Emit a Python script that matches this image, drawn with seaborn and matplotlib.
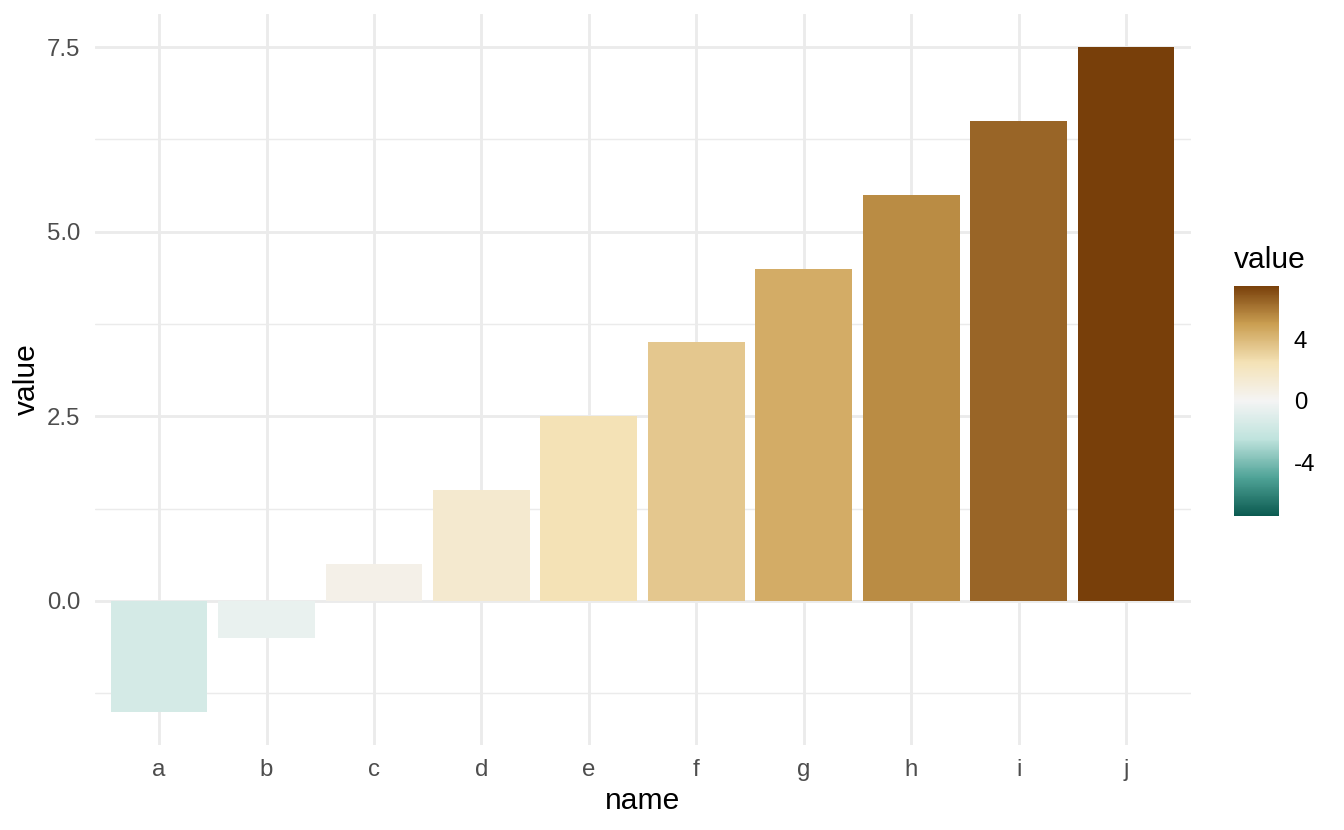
import numpy as np
import pandas as pd
import matplotlib
matplotlib.use("Agg")
import matplotlib.pyplot as plt
import seaborn as sns
from matplotlib.colors import Normalize, LinearSegmentedColormap
from matplotlib.cm import ScalarMappable
from matplotlib.ticker import FixedLocator

names = ["a", "b", "c", "d", "e", "f", "g", "h", "i", "j"]
values = [-1.5, -0.5, 0.5, 1.5, 2.5, 3.5, 4.5, 5.5, 6.5, 7.5]
y_ticks = [0, 2.5, 5, 7.5]
y_labels = ["0.0", "2.5", "5.0", "7.5"]
y_minor = [-1.25, 1.25, 3.75, 6.25]
cbar_ticks = [-4, 0, 4]

sns.set_theme(style="white")
plt.rcParams["font.family"] = ["Liberation Sans", "DejaVu Sans"]
plt.rcParams["axes.unicode_minus"] = False

df = pd.DataFrame({"name": names, "value": values})

# diverging teal -> white -> brown scale, symmetric limits like the legend
cmap = LinearSegmentedColormap.from_list(
    "brbg_like",
    ["#0b5a50", "#4fa397", "#bfe3dd", "#f4f4f4", "#f4e2b6", "#cb9f52", "#783f0a"])
norm = Normalize(-7.5, 7.5)
bar_colors = [cmap(norm(v)) for v in df["value"]]

fig = plt.figure(figsize=(1344 / 144, 830 / 144), dpi=144)
ax = fig.add_axes([0.0704, 0.1024, 0.8154, 0.881])

sns.barplot(data=df, x="name", y="value", hue="name", palette=bar_colors,
            legend=False, width=0.9, saturation=1, linewidth=0, ax=ax)

ax.set_xlim(-0.6, 9.6)
ax.set_ylim(-1.95, 7.95)
ax.set_yticks(y_ticks)
ax.set_yticklabels(y_labels)
ax.yaxis.set_minor_locator(FixedLocator(y_minor))

ax.set_axisbelow(True)
ax.grid(True, which="major", axis="both", color="#EBEBEB", linewidth=1.42)
ax.grid(True, which="minor", axis="y", color="#EBEBEB", linewidth=0.71)
for s in ax.spines.values():
    s.set_visible(False)

ax.tick_params(axis="both", which="both", length=0, labelsize=12, labelcolor="#4D4D4D")
ax.tick_params(axis="x", pad=7)
ax.tick_params(axis="y", pad=7)
ax.set_xlabel("name", fontsize=15, color="black", labelpad=3)
ax.set_ylabel("value", fontsize=15, color="black", labelpad=3)

# colourbar legend
cax = fig.add_axes([0.918, 0.378, 0.0335, 0.278])
cbar = fig.colorbar(ScalarMappable(norm=norm, cmap=cmap), cax=cax, ticks=cbar_ticks)
cbar.outline.set_visible(False)
cax.tick_params(left=True, right=True, direction="in", length=4.5, width=0.7,
                color="white", labelsize=12, labelcolor="black", pad=7.5)
fig.text(0.918, (830 - 260) / 830, "value", fontsize=15, color="black",
         ha="left", va="center")

fig.savefig("out.png", dpi=144, facecolor="white")
